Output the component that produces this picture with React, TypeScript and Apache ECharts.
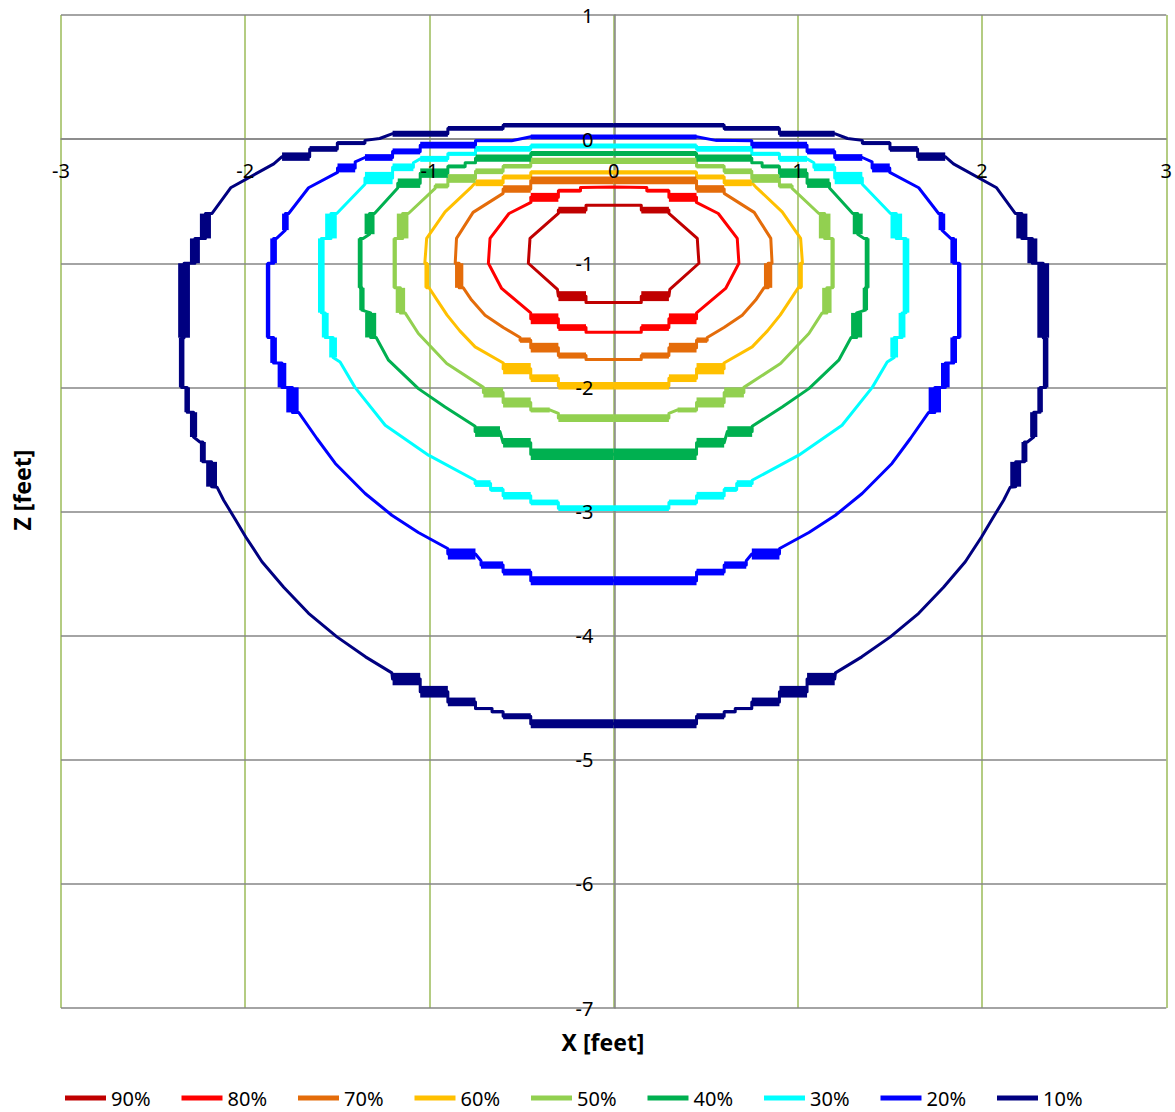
import React, { useEffect, useRef } from "react";
import * as echarts from "echarts";

// Contour levels, legend order
const LEVELS = ["90%", "80%", "70%", "60%", "50%", "40%", "30%", "20%", "10%"];
const COLORS = ["#C00000", "#FF0000", "#E46C0A", "#FFC000", "#92D050", "#00B050", "#00FFFF", "#0000FF", "#000080"];
const X_RANGE = [-3, 3];
const Y_RANGE = [-7, 1];

// Right half of each contour (x >= 0), from top centre clockwise to bottom centre.
// ["p", x, y] = vertex, ["h", x1, x2, yTop, yBottom] = horizontal band, ["v", x1, x2, yTop, yBottom] = vertical band
type Item = (string | number)[];

const C90: Item[] = [
  ["p", 0, -0.532], ["p", 0.15, -0.532],
  ["h", 0.15, 0.3, -0.545, -0.599],
  ["p", 0.3, -0.599], ["p", 0.454, -0.8], ["p", 0.463, -1.0], ["p", 0.305, -1.211],
  ["h", 0.3, 0.15, -1.225, -1.305],
  ["p", 0.15, -1.316], ["p", 0, -1.316],
];

const C80: Item[] = [
  ["p", 0, -0.386], ["p", 0.18, -0.389],
  ["h", 0.18, 0.3, -0.4, -0.43],
  ["h", 0.3, 0.45, -0.433, -0.505],
  ["p", 0.449, -0.51], ["p", 0.568, -0.599], ["p", 0.671, -0.8], ["p", 0.68, -1.0], ["p", 0.608, -1.203], ["p", 0.45, -1.4],
  ["h", 0.45, 0.3, -1.404, -1.491],
  ["h", 0.3, 0.15, -1.491, -1.545],
  ["p", 0.15, -1.555], ["p", 0, -1.555],
];

const C70: Item[] = [
  ["h", 0, 0.45, -0.302, -0.363],
  ["h", 0.45, 0.6, -0.371, -0.432],
  ["p", 0.6, -0.437], ["p", 0.763, -0.59], ["p", 0.853, -0.8], ["p", 0.86, -1.0],
  ["v", 0.816, 0.861, -1.0, -1.198],
  ["p", 0.816, -1.198], ["p", 0.771, -1.297], ["p", 0.698, -1.418], ["p", 0.599, -1.517], ["p", 0.508, -1.598],
  ["h", 0.508, 0.45, -1.598, -1.641],
  ["h", 0.45, 0.3, -1.641, -1.719],
  ["h", 0.3, 0.15, -1.719, -1.768],
  ["p", 0.15, -1.775], ["p", 0, -1.775],
];

const C60: Item[] = [
  ["h", 0, 0.45, -0.251, -0.285],
  ["h", 0.45, 0.6, -0.285, -0.325],
  ["h", 0.6, 0.75, -0.325, -0.379],
  ["p", 0.771, -0.384], ["p", 0.915, -0.586], ["p", 1.015, -0.8], ["p", 1.025, -1.0],
  ["v", 1.002, 1.027, -1.0, -1.197],
  ["p", 1.002, -1.197], ["p", 0.958, -1.297], ["p", 0.904, -1.418], ["p", 0.835, -1.545], ["p", 0.752, -1.674], ["p", 0.599, -1.804],
  ["h", 0.6, 0.45, -1.804, -1.895],
  ["h", 0.45, 0.3, -1.895, -1.957],
  ["h", 0.3, 0, -1.957, -2.018],
];

const C50: Item[] = [
  ["h", 0, 0.45, -0.151, -0.201],
  ["h", 0.45, 0.6, -0.201, -0.236],
  ["h", 0.6, 0.75, -0.236, -0.282],
  ["h", 0.75, 0.9, -0.282, -0.352],
  ["h", 0.9, 0.969, -0.357, -0.397],
  ["p", 0.969, -0.397], ["p", 1.114, -0.599],
  ["v", 1.114, 1.177, -0.6, -0.8],
  ["v", 1.177, 1.2, -0.8, -1.198],
  ["v", 1.132, 1.183, -1.198, -1.4],
  ["p", 1.132, -1.4], ["p", 1.06, -1.566], ["p", 0.906, -1.808], ["p", 0.707, -2.0],
  ["h", 0.707, 0.6, -2.0, -2.081],
  ["h", 0.6, 0.45, -2.081, -2.162],
  ["h", 0.45, 0.347, -2.162, -2.202],
  ["p", 0.3, -2.21],
  ["h", 0.3, 0, -2.216, -2.278],
];

const C40: Item[] = [
  ["h", 0, 0.45, -0.095, -0.135],
  ["h", 0.45, 0.75, -0.124, -0.183],
  ["p", 0.75, -0.19], ["p", 0.806, -0.19],
  ["h", 0.806, 0.9, -0.204, -0.236],
  ["h", 0.9, 1.05, -0.236, -0.312],
  ["h", 1.05, 1.172, -0.317, -0.393],
  ["p", 1.172, -0.393], ["p", 1.298, -0.599],
  ["v", 1.298, 1.352, -0.6, -0.766],
  ["p", 1.36, -0.8],
  ["v", 1.363, 1.389, -0.8, -1.198],
  ["v", 1.352, 1.381, -1.198, -1.378],
  ["v", 1.289, 1.349, -1.4, -1.598],
  ["p", 1.289, -1.598], ["p", 1.222, -1.781], ["p", 1.06, -2.01], ["p", 0.915, -2.158], ["p", 0.752, -2.313],
  ["h", 0.752, 0.617, -2.313, -2.399],
  ["h", 0.6, 0.45, -2.407, -2.485],
  ["h", 0.45, 0, -2.493, -2.586],
];

const C30: Item[] = [
  ["h", 0, 0.45, -0.035, -0.075],
  ["h", 0.45, 0.75, -0.056, -0.102],
  ["h", 0.75, 0.9, -0.102, -0.135],
  ["h", 0.9, 1.05, -0.135, -0.183],
  ["p", 1.087, -0.19],
  ["h", 1.087, 1.2, -0.196, -0.258],
  ["h", 1.2, 1.35, -0.264, -0.363],
  ["p", 1.35, -0.363], ["p", 1.503, -0.599],
  ["v", 1.503, 1.566, -0.6, -0.8],
  ["v", 1.569, 1.605, -0.8, -1.398],
  ["v", 1.547, 1.584, -1.4, -1.598],
  ["v", 1.502, 1.544, -1.598, -1.759],
  ["p", 1.485, -1.795], ["p", 1.404, -2.0], ["p", 1.24, -2.305], ["p", 1.005, -2.546], ["p", 0.752, -2.748],
  ["h", 0.752, 0.668, -2.748, -2.802],
  ["h", 0.668, 0.6, -2.802, -2.842],
  ["h", 0.6, 0.45, -2.842, -2.904],
  ["h", 0.45, 0.3, -2.904, -2.95],
  ["h", 0.3, 0, -2.95, -2.996],
];

const C20: Item[] = [
  ["h", 0, 0.45, 0.038, 0.0],
  ["p", 0.554, -0.01],
  ["h", 0.554, 0.75, -0.003, -0.022],
  ["h", 0.75, 1.05, -0.022, -0.075],
  ["h", 1.05, 1.2, -0.075, -0.123],
  ["h", 1.2, 1.35, -0.121, -0.175],
  ["p", 1.403, -0.183],
  ["h", 1.403, 1.499, -0.196, -0.268],
  ["p", 1.499, -0.268], ["p", 1.656, -0.392], ["p", 1.764, -0.599],
  ["v", 1.764, 1.8, -0.6, -0.733],
  ["p", 1.83, -0.8],
  ["v", 1.828, 1.864, -0.8, -1.0],
  ["v", 1.864, 1.888, -1.0, -1.598],
  ["v", 1.828, 1.864, -1.598, -1.803],
  ["v", 1.777, 1.824, -1.803, -2.0],
  ["v", 1.71, 1.777, -2.0, -2.202],
  ["p", 1.71, -2.202], ["p", 1.611, -2.412], ["p", 1.511, -2.613], ["p", 1.349, -2.855], ["p", 1.204, -3.03], ["p", 1.06, -3.169], ["p", 0.901, -3.298],
  ["h", 0.9, 0.75, -3.298, -3.387],
  ["p", 0.72, -3.397],
  ["h", 0.72, 0.6, -3.402, -3.461],
  ["h", 0.6, 0.45, -3.461, -3.515],
  ["h", 0.45, 0, -3.521, -3.594],
];

const C10: Item[] = [
  ["h", 0, 0.6, 0.129, 0.093],
  ["h", 0.6, 0.9, 0.105, 0.068],
  ["h", 0.9, 1.2, 0.068, 0.02],
  ["p", 1.27, 0.005], ["p", 1.35, -0.01],
  ["h", 1.35, 1.5, -0.016, -0.048],
  ["h", 1.5, 1.65, -0.056, -0.102],
  ["h", 1.65, 1.8, -0.107, -0.175],
  ["p", 1.845, -0.199], ["p", 2.079, -0.392], ["p", 2.18, -0.599],
  ["v", 2.186, 2.246, -0.6, -0.8],
  ["v", 2.246, 2.3, -0.8, -1.0],
  ["v", 2.3, 2.364, -1.0, -1.6],
  ["v", 2.33, 2.36, -1.6, -2.0],
  ["v", 2.3, 2.33, -2.0, -2.2],
  ["v", 2.261, 2.3, -2.2, -2.4],
  ["p", 2.246, -2.44],
  ["v", 2.214, 2.246, -2.44, -2.6],
  ["v", 2.153, 2.212, -2.6, -2.8],
  ["p", 2.153, -2.804], ["p", 2.117, -2.909], ["p", 2.051, -3.07], ["p", 1.997, -3.205], ["p", 1.909, -3.405],
  ["p", 1.791, -3.61], ["p", 1.656, -3.82], ["p", 1.502, -4.01], ["p", 1.347, -4.171], ["p", 1.204, -4.3],
  ["h", 1.2, 1.05, -4.3, -4.4],
  ["h", 1.05, 0.9, -4.405, -4.499],
  ["h", 0.9, 0.75, -4.499, -4.569],
  ["h", 0.75, 0.66, -4.575, -4.6],
  ["h", 0.66, 0.6, -4.6, -4.625],
  ["h", 0.6, 0.45, -4.625, -4.674],
  ["h", 0.45, 0, -4.674, -4.747],
];

const CONTOURS = [C90, C80, C70, C60, C50, C40, C30, C20, C10];

const FONT = '"Noto Sans", "Open Sans", "Liberation Sans", sans-serif';

// plot area in pixels
const GRID_LEFT = 61;
const GRID_RIGHT = 7;
const GRID_TOP = 15;
const GRID_BOTTOM = 104;
const W = 1175;
const H = 1112;

function buildContour(items: Item[]) {
  const pts: number[][] = [];
  const bands: number[][] = [];
  for (const it of items) {
    const k = it[0];
    const a = it[1] as number;
    const b = it[2] as number;
    if (k === "p") {
      pts.push([a, b]);
    } else if (k === "h") {
      const y1 = it[3] as number;
      const y2 = it[4] as number;
      const yc = (y1 + y2) / 2;
      pts.push([a, yc], [b, yc]);
      bands.push([a, b, y1, y2]);
    } else {
      const y1 = it[3] as number;
      const y2 = it[4] as number;
      const xc = (a + b) / 2;
      pts.push([xc, y1], [xc, y2]);
      bands.push([a, b, y1, y2]);
    }
  }
  // left half is the mirror image of the right half (chart is symmetric about x = 0)
  const left = pts.slice().reverse().map(([x, y]) => [-x, y]);
  const path = pts.concat(left);
  const allBands = bands.concat(bands.map(([x1, x2, y1, y2]) => [-x1, -x2, y1, y2]));
  return { path, bands: allBands };
}

export default function App() {
  const ref = useRef<HTMLDivElement>(null);

  useEffect(() => {
    if (!ref.current) return;
    const chart = echarts.init(ref.current, undefined, { renderer: "svg" });

    const lineSeries: any[] = [];
    const bandData: number[][] = [];
    CONTOURS.forEach((c, i) => {
      const { path, bands } = buildContour(c);
      lineSeries.push({
        name: LEVELS[i],
        type: "line",
        xAxisIndex: 0,
        yAxisIndex: 0,
        data: path,
        showSymbol: false,
        symbol: "none",
        color: COLORS[i],
        itemStyle: { color: COLORS[i] },
        lineStyle: { color: COLORS[i], width: 3, join: "round" },
        z: 3,
        silent: true,
      });
      bands.forEach((b) => bandData.push([b[0], b[1], b[2], b[3], i]));
    });

    const bandSeries = {
      name: "bands",
      type: "custom",
      xAxisIndex: 0,
      yAxisIndex: 0,
      silent: true,
      z: 4,
      encode: { x: [0, 1], y: [2, 3] },
      data: bandData,
      renderItem: (params: any, api: any) => {
        const p1 = api.coord([api.value(0), api.value(2)]);
        const p2 = api.coord([api.value(1), api.value(3)]);
        const color = COLORS[api.value(4) as number];
        return {
          type: "rect",
          shape: {
            x: Math.min(p1[0], p2[0]),
            y: Math.min(p1[1], p2[1]),
            width: Math.abs(p2[0] - p1[0]),
            height: Math.abs(p2[1] - p1[1]),
          },
          style: { fill: color },
        };
      },
    };

    // axes cross at (0, 0): shift the axis lines and their labels onto the zero lines
    const plotW = W - GRID_LEFT - GRID_RIGHT;
    const plotH = H - GRID_TOP - GRID_BOTTOM;
    const yZeroFromBottom = ((0 - Y_RANGE[0]) / (Y_RANGE[1] - Y_RANGE[0])) * plotH;
    const xZeroFromLeft = ((0 - X_RANGE[0]) / (X_RANGE[1] - X_RANGE[0])) * plotW;

    const labelStyle = { margin: 21, fontSize: 20, color: "#000", fontFamily: FONT, showMinLabel: true, showMaxLabel: true };

    chart.setOption({
      animation: false,
      backgroundColor: "#ffffff",
      grid: { left: GRID_LEFT, right: GRID_RIGHT, top: GRID_TOP, bottom: GRID_BOTTOM, containLabel: false },
      xAxis: [
        {
          // gridlines + axis line (below the contours)
          type: "value",
          position: "bottom",
          offset: -yZeroFromBottom,
          min: X_RANGE[0],
          max: X_RANGE[1],
          interval: 1,
          z: 0,
          axisLine: { show: true, onZero: false, lineStyle: { color: "#868686", width: 1.5 } },
          axisTick: { show: false },
          axisLabel: { show: false },
          splitLine: { show: true, lineStyle: { color: "#9BBB59", width: 1.5 } },
        },
        {
          // tick labels (above the contours)
          type: "value",
          position: "bottom",
          offset: -yZeroFromBottom,
          min: X_RANGE[0],
          max: X_RANGE[1],
          interval: 1,
          z: 10,
          axisLine: { show: false, onZero: false },
          axisTick: { show: false },
          axisLabel: labelStyle,
          splitLine: { show: false },
        },
      ],
      yAxis: [
        {
          type: "value",
          position: "left",
          offset: -xZeroFromLeft,
          min: Y_RANGE[0],
          max: Y_RANGE[1],
          interval: 1,
          z: 1,
          axisLine: { show: true, onZero: false, lineStyle: { color: "#868686", width: 1.5 } },
          axisTick: { show: false },
          axisLabel: { show: false },
          splitLine: { show: true, lineStyle: { color: "#868686", width: 1.5 } },
        },
        {
          type: "value",
          position: "left",
          offset: -xZeroFromLeft,
          min: Y_RANGE[0],
          max: Y_RANGE[1],
          interval: 1,
          z: 10,
          axisLine: { show: false, onZero: false },
          axisTick: { show: false },
          axisLabel: labelStyle,
          splitLine: { show: false },
        },
      ],
      legend: {
        data: LEVELS,
        orient: "horizontal",
        left: 60,
        top: 1083,
        icon: "rect",
        itemWidth: 41,
        itemHeight: 5,
        itemGap: 31,
        textStyle: { fontSize: 20, color: "#000", fontFamily: FONT },
        selectedMode: false,
      },
      graphic: [
        {
          type: "text",
          x: 603,
          y: 1042,
          style: {
            text: "X [feet]",
            fill: "#000",
            font: `bold 23px ${FONT}`,
            textAlign: "center",
            textVerticalAlign: "middle",
          },
        },
        {
          type: "text",
          x: 22,
          y: 490,
          rotation: Math.PI / 2,
          style: {
            text: "Z [feet]",
            fill: "#000",
            font: `bold 23px ${FONT}`,
            textAlign: "center",
            textVerticalAlign: "middle",
          },
        },
      ],
      series: [...lineSeries, bandSeries],
    });

    return () => {
      chart.dispose();
    };
  }, []);

  return (
    <div
      ref={ref}
      style={{ position: "fixed", left: 0, top: 0, width: W, height: H, background: "#fff" }}
    />
  );
}
